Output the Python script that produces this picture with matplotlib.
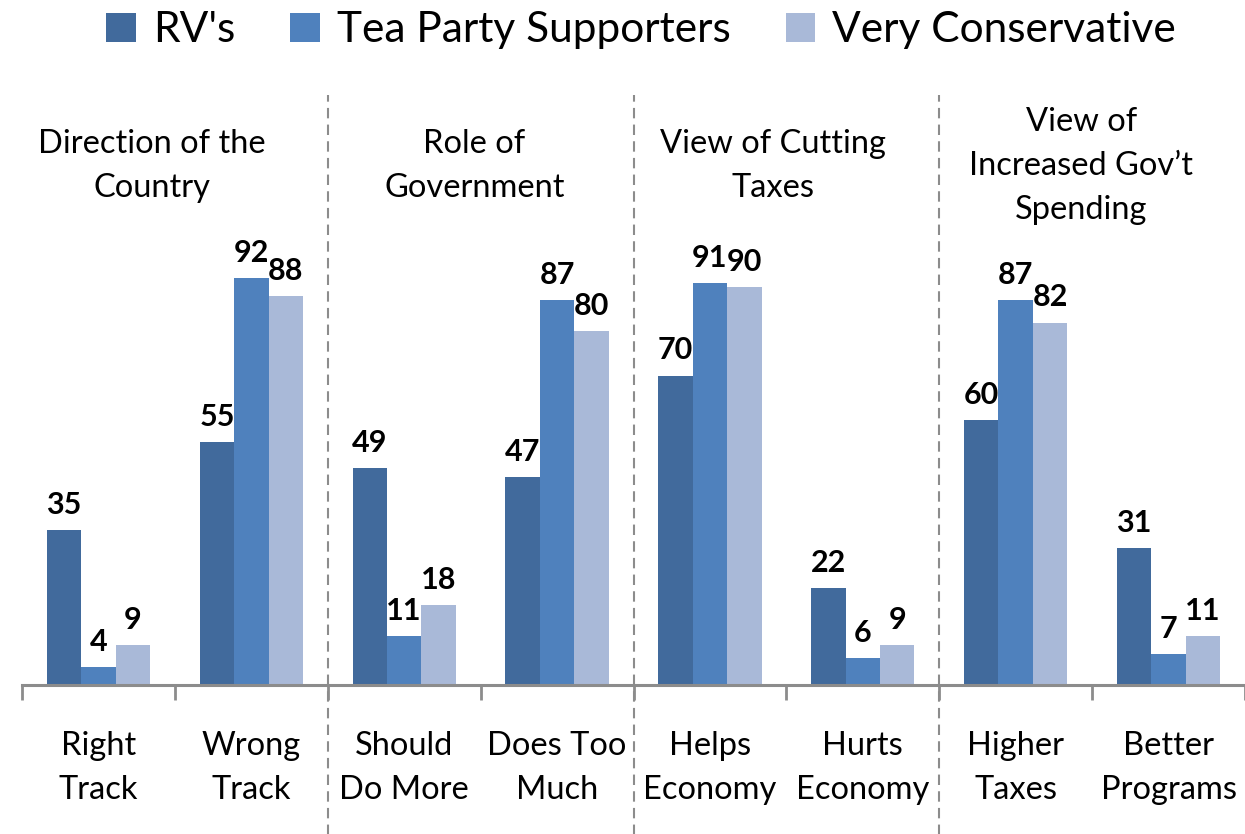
import matplotlib
matplotlib.use("Agg")
import matplotlib.pyplot as plt
import numpy as np

plt.rcParams['font.family'] = ['Lato', 'DejaVu Sans']

# data
categories = ["Right\nTrack", "Wrong\nTrack", "Should\nDo More", "Does Too\nMuch",
              "Helps\nEconomy", "Hurts\nEconomy", "Higher\nTaxes", "Better\nPrograms"]
group_titles = ["Direction of the\nCountry", "Role of\nGovernment",
                "View of Cutting\nTaxes", "View of\nIncreased Gov\u2019t\nSpending"]
rvs = [35, 55, 49, 47, 70, 22, 60, 31]
tea_party = [4, 92, 11, 87, 91, 6, 87, 7]
very_cons = [9, 88, 18, 80, 90, 9, 82, 11]

series_names = ["RV's", "Tea Party Supporters", "Very Conservative"]
colors = ["#416A9C", "#4F81BD", "#A9B9D8"]

fig = plt.figure(figsize=(12.45, 8.34), dpi=100)
# baseline sits ~685px from the top, 4.42 px per unit
ax = fig.add_axes([22 / 1245, 149 / 834, 1223 / 1245, 685 / 834])

x = np.arange(len(categories))
width = 0.225
for i, (vals, name, col) in enumerate(zip([rvs, tea_party, very_cons], series_names, colors)):
    bars = ax.bar(x + (i - 1) * width, vals, width, color=col, label=name, zorder=2)
    for b, v in zip(bars, vals):
        ax.annotate(str(v), (b.get_x() + b.get_width() / 2, v), xytext=(0, 8),
                    textcoords='offset points', ha='center', va='bottom',
                    fontsize=22, fontweight='bold', color='black')

ax.set_xlim(-0.5, len(categories) - 0.5)
ax.set_ylim(0, 685 / 4.42)

# axis styling
for s in ['top', 'right', 'left']:
    ax.spines[s].set_visible(False)
ax.spines['bottom'].set_color('#8C8C8C')
ax.spines['bottom'].set_linewidth(2.2)
ax.set_yticks([])
ax.set_xticks(np.arange(-0.5, len(categories), 1.0))
ax.set_xticklabels([])
ax.tick_params(axis='x', which='major', length=11, width=2, color='#8C8C8C', direction='out')
ax.set_xticks(x, minor=True)
ax.set_xticklabels(categories, minor=True, fontsize=23.5, linespacing=1.6)
ax.tick_params(axis='x', which='minor', length=0, pad=33)

# dashed separators between the four question groups
trans = ax.get_xaxis_transform()
for xs in [1.5, 3.5, 5.5]:
    ax.plot([xs, xs], [-0.22, 0.862], transform=trans, color='#8C8C8C',
            linestyle=(0, (5, 3)), linewidth=1.5, clip_on=False, zorder=1)

# group titles
title_x = [0.35, 2.46, 4.41, 6.43]
for tx, t in zip(title_x, group_titles):
    ax.text(tx, 117.4, t, ha='center', va='center', fontsize=23.5, linespacing=1.6)

leg = fig.legend(loc='upper center', bbox_to_anchor=(0.515, 1.032), ncol=3, frameon=False,
                 fontsize=30.5, handlelength=0.7, handleheight=0.7, handletextpad=0.4,
                 columnspacing=1.3)

fig.savefig("out.png", dpi=100)
